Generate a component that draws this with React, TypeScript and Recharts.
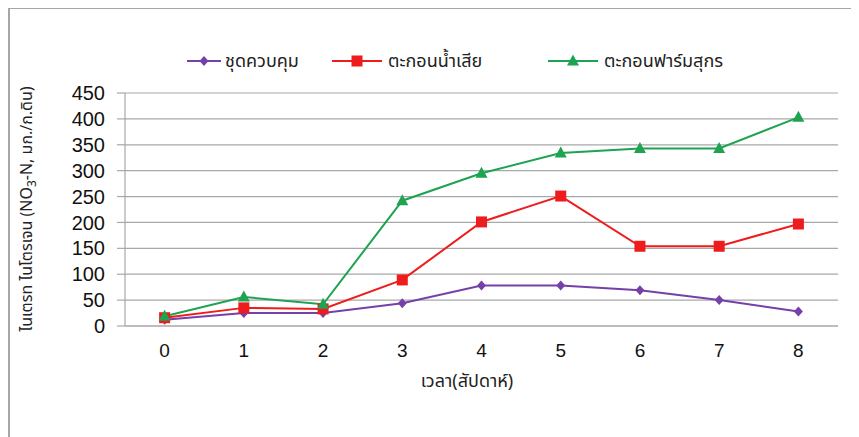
import { CartesianGrid, Line, LineChart, XAxis, YAxis } from 'recharts'

const weeks = ['0', '1', '2', '3', '4', '5', '6', '7', '8']
const control = [12, 25, 25, 44, 78, 78, 69, 50, 28]
const wastewater = [16, 35, 33, 89, 201, 251, 154, 154, 197]
const pigFarm = [19, 56, 42, 242, 295, 334, 343, 343, 403]
const yTicks = [0, 50, 100, 150, 200, 250, 300, 350, 400, 450]

const names = ['ชุดควบคุม', 'ตะกอนน้ำเสีย', 'ตะกอนฟาร์มสุกร']
const colors = ['#7540a8', '#ee1c1c', '#1ea352']

const data = weeks.map((w, i) => ({
  week: w,
  control: control[i],
  wastewater: wastewater[i],
  pigFarm: pigFarm[i],
}))

const thaiFont = '"Noto Sans Thai", "Loma", "Garuda", "Tahoma", "Noto Sans", sans-serif'
const numFont = '"Liberation Sans", Arial, sans-serif'

function Marker({ kind, cx, cy, color }: { kind: number; cx: number; cy: number; color: string }) {
  if (kind === 0) {
    return <polygon points={`${cx},${cy - 5} ${cx + 4.5},${cy} ${cx},${cy + 5} ${cx - 4.5},${cy}`} fill={color} />
  }
  if (kind === 1) {
    return <rect x={cx - 5.5} y={cy - 5.5} width={11} height={11} fill={color} />
  }
  return <polygon points={`${cx},${cy - 6.5} ${cx + 6},${cy + 4.5} ${cx - 6},${cy + 4.5}`} fill={color} />
}

const dotFor = (kind: number) => (props: any) => {
  const { cx, cy, index } = props
  if (cx == null || cy == null) return <g key={index} />
  return <Marker key={index} kind={kind} cx={cx} cy={cy} color={colors[kind]} />
}

// legend drawn by hand, Excel style (line + marker + label in one row)
function LegendRow() {
  const offsets = [177, 322, 538]
  return (
    <g>
      {names.map((n, i) => (
        <g key={n} transform={`translate(${offsets[i]},37)`}>
          <line x1={0} y1={15} x2={i === 0 ? 34 : 50} y2={15} stroke={colors[i]} strokeWidth={2} />
          <Marker kind={i} cx={i === 0 ? 17 : 25} cy={15} color={colors[i]} />
          <text x={i === 0 ? 38 : 56} y={21} fontSize={18} fontFamily={thaiFont} fill="#222">
            {n}
          </text>
        </g>
      ))}
    </g>
  )
}

function YLabel() {
  return (
    <text
      transform="translate(22,200) rotate(-90)"
      textAnchor="middle"
      fontSize={16}
      fontFamily={thaiFont}
      fill="#222"
    >
      ไนเตรท ไนโตรเจน (NO
      <tspan fontSize={12} dy={4}>3</tspan>
      <tspan dy={-4}>-N, มก./ก.ดิน)</tspan>
    </text>
  )
}

export default function App() {
  return (
    <div style={{ width: 851, height: 429, borderTop: '2px solid #a6a6a6', borderLeft: '2px solid #a6a6a6', marginTop: -1, background: '#fff' }}>
      <LineChart width={849} height={427} data={data} margin={{ top: 84, right: 21, left: 55, bottom: 70 }}>
        <CartesianGrid vertical={false} stroke="#a8a8a8" strokeWidth={1.2} />
        <XAxis
          dataKey="week"
          scale="band"
          tickLine={false}
          axisLine={{ stroke: '#a8a8a8', strokeWidth: 1.2 }}
          tick={{ fill: '#111', fontSize: 19, fontFamily: numFont }}
          tickMargin={12}
          height={40}
        />
        <YAxis
          ticks={yTicks}
          domain={[0, 450]}
          interval={0}
          width={60}
          axisLine={{ stroke: '#a8a8a8', strokeWidth: 1.2 }}
          tickLine={{ stroke: '#a8a8a8', strokeWidth: 1.2 }}
          tickSize={8}
          tickMargin={12}
          tick={{ fill: '#111', fontSize: 20, fontFamily: numFont }}
        />
        <Line dataKey="control" name={names[0]} stroke={colors[0]} strokeWidth={2} dot={dotFor(0)} isAnimationActive={false} />
        <Line dataKey="wastewater" name={names[1]} stroke={colors[1]} strokeWidth={2} dot={dotFor(1)} isAnimationActive={false} />
        <Line dataKey="pigFarm" name={names[2]} stroke={colors[2]} strokeWidth={2} dot={dotFor(2)} isAnimationActive={false} />
        <LegendRow />
        <YLabel />
        <text x={457} y={378} textAnchor="middle" fontSize={18} fontFamily={thaiFont} fill="#222">
          เวลา(สัปดาห์)
        </text>
      </LineChart>
    </div>
  )
}
